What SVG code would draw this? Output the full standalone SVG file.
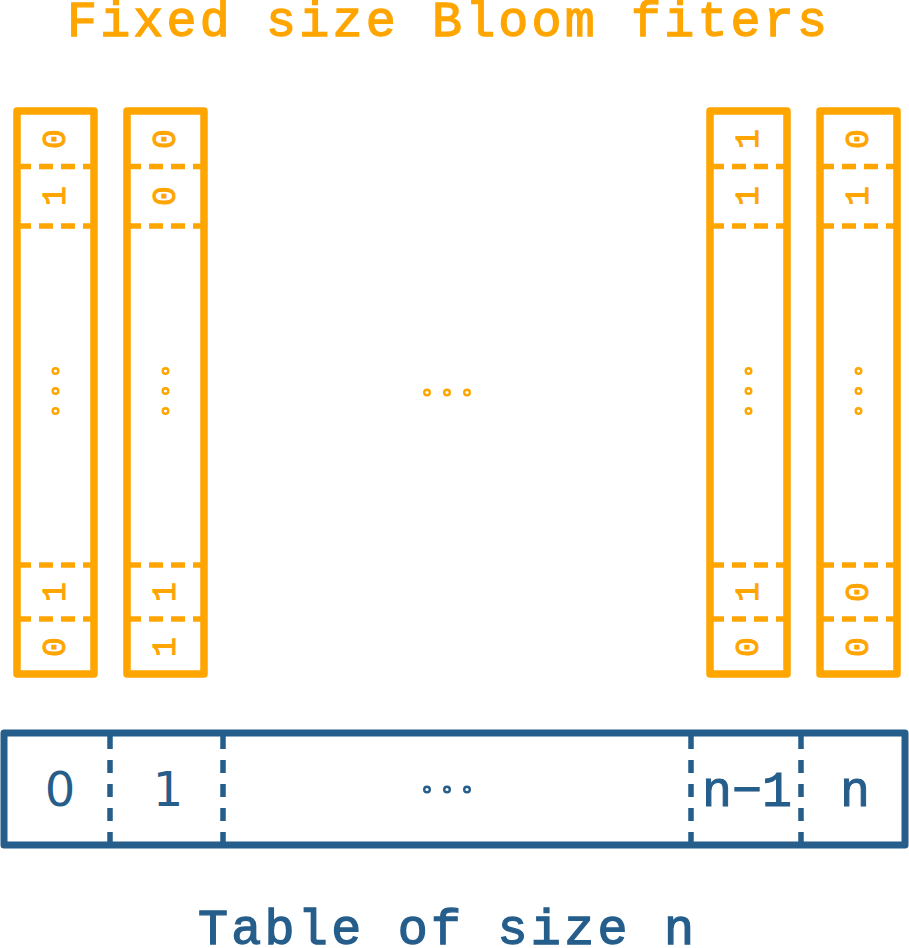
<svg xmlns="http://www.w3.org/2000/svg" width="909" height="948" viewBox="0 0 909 948">
<style>
.bf{fill:none;stroke:#FFA500;stroke-width:7.5;stroke-linejoin:round}
.bd{stroke:#FFA500;stroke-width:5.5;stroke-dasharray:14 8}
.bit{font-family:"Courier New","Liberation Mono",monospace;font-size:33px;fill:#FFA500;stroke:#FFA500;stroke-width:1;text-anchor:middle;dominant-baseline:central}
.od{fill:#fff;stroke:#FFA500;stroke-width:2.4}
.tb{fill:none;stroke:#255D8B;stroke-width:7;stroke-linejoin:round}
.td{stroke:#255D8B;stroke-width:5.5;stroke-dasharray:13 11}
.bdot{fill:#fff;stroke:#255D8B;stroke-width:2.4}
.title{font-family:"Courier New","Liberation Mono",monospace;font-size:50px;text-anchor:middle;stroke-width:1.3}
.cs{font-family:"DejaVu Sans",sans-serif;font-size:48px;fill:#255D8B;text-anchor:middle}
.cm{font-family:"Courier New","Liberation Mono",monospace;font-size:50px;fill:#255D8B;stroke:#255D8B;stroke-width:1;text-anchor:middle}
</style>
<text class="title" x="447" y="36" textLength="760" lengthAdjust="spacing" fill="#FFA500" stroke="#FFA500">Fixed size Bloom fiters</text>

<g id="filter1">
<rect class="bf" x="17" y="111" width="77" height="563"/>
<line class="bd" x1="17" y1="166.5" x2="94" y2="166.5"/>
<line class="bd" x1="17" y1="226" x2="94" y2="226"/>
<line class="bd" x1="17" y1="565" x2="94" y2="565"/>
<line class="bd" x1="17" y1="619" x2="94" y2="619"/>
<text class="bit" x="56" y="139" transform="rotate(-90 56 139)">0</text>
<text class="bit" x="56" y="196" transform="rotate(-90 56 196)">1</text>
<text class="bit" x="56" y="592" transform="rotate(-90 56 592)">1</text>
<text class="bit" x="56" y="647" transform="rotate(-90 56 647)">0</text>
<circle class="od" cx="55.5" cy="371" r="2.8"/><circle class="od" cx="55.5" cy="391" r="2.8"/><circle class="od" cx="55.5" cy="411" r="2.8"/>
</g>

<g id="filter2">
<rect class="bf" x="127" y="111" width="77" height="563"/>
<line class="bd" x1="127" y1="166.5" x2="204" y2="166.5"/>
<line class="bd" x1="127" y1="226" x2="204" y2="226"/>
<line class="bd" x1="127" y1="565" x2="204" y2="565"/>
<line class="bd" x1="127" y1="619" x2="204" y2="619"/>
<text class="bit" x="166" y="139" transform="rotate(-90 166 139)">0</text>
<text class="bit" x="166" y="196" transform="rotate(-90 166 196)">0</text>
<text class="bit" x="166" y="592" transform="rotate(-90 166 592)">1</text>
<text class="bit" x="166" y="647" transform="rotate(-90 166 647)">1</text>
<circle class="od" cx="165.5" cy="371" r="2.8"/><circle class="od" cx="165.5" cy="391" r="2.8"/><circle class="od" cx="165.5" cy="411" r="2.8"/>
</g>

<g id="gap-dots">
<circle class="od" cx="427" cy="392.5" r="2.8"/><circle class="od" cx="447" cy="392.5" r="2.8"/><circle class="od" cx="467" cy="392.5" r="2.8"/>
</g>

<g id="filter3">
<rect class="bf" x="710" y="111" width="77" height="563"/>
<line class="bd" x1="710" y1="166.5" x2="787" y2="166.5"/>
<line class="bd" x1="710" y1="226" x2="787" y2="226"/>
<line class="bd" x1="710" y1="565" x2="787" y2="565"/>
<line class="bd" x1="710" y1="619" x2="787" y2="619"/>
<text class="bit" x="749" y="139" transform="rotate(-90 749 139)">1</text>
<text class="bit" x="749" y="196" transform="rotate(-90 749 196)">1</text>
<text class="bit" x="749" y="592" transform="rotate(-90 749 592)">1</text>
<text class="bit" x="749" y="647" transform="rotate(-90 749 647)">0</text>
<circle class="od" cx="748.5" cy="371" r="2.8"/><circle class="od" cx="748.5" cy="391" r="2.8"/><circle class="od" cx="748.5" cy="411" r="2.8"/>
</g>

<g id="filter4">
<rect class="bf" x="820" y="111" width="77" height="563"/>
<line class="bd" x1="820" y1="166.5" x2="897" y2="166.5"/>
<line class="bd" x1="820" y1="226" x2="897" y2="226"/>
<line class="bd" x1="820" y1="565" x2="897" y2="565"/>
<line class="bd" x1="820" y1="619" x2="897" y2="619"/>
<text class="bit" x="859" y="139" transform="rotate(-90 859 139)">0</text>
<text class="bit" x="859" y="196" transform="rotate(-90 859 196)">1</text>
<text class="bit" x="859" y="592" transform="rotate(-90 859 592)">0</text>
<text class="bit" x="859" y="647" transform="rotate(-90 859 647)">0</text>
<circle class="od" cx="858.5" cy="371" r="2.8"/><circle class="od" cx="858.5" cy="391" r="2.8"/><circle class="od" cx="858.5" cy="411" r="2.8"/>
</g>

<g id="table">
<rect class="tb" x="4" y="733" width="901" height="112"/>
<line class="td" x1="110" y1="736" x2="110" y2="845"/>
<line class="td" x1="223" y1="736" x2="223" y2="845"/>
<line class="td" x1="691" y1="736" x2="691" y2="845"/>
<line class="td" x1="801" y1="736" x2="801" y2="845"/>
<text class="cs" x="60" y="806">0</text>
<text class="cs" x="168" y="806">1</text>
<circle class="bdot" cx="427" cy="789.5" r="2.8"/><circle class="bdot" cx="447" cy="789.5" r="2.8"/><circle class="bdot" cx="467" cy="789.5" r="2.8"/>
<text class="cm" x="747" y="806">n−1</text>
<text class="cm" x="855" y="806">n</text>
</g>

<text class="title" x="446" y="944" textLength="496" lengthAdjust="spacing" fill="#255D8B" stroke="#255D8B">Table of size n</text>
</svg>
